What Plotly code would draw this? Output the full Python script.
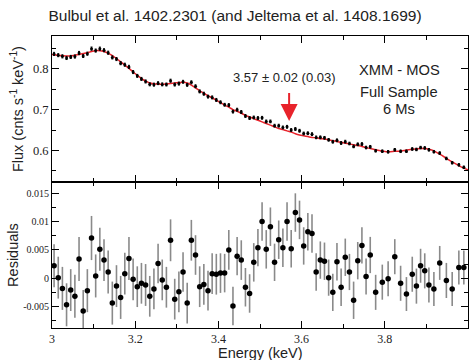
import plotly.graph_objects as go
from plotly.subplots import make_subplots

# Bin centres (keV)
energy = [
    3.005, 3.015, 3.025, 3.035, 3.045, 3.055, 3.065, 3.075, 3.085, 3.095,
    3.105, 3.115, 3.125, 3.135, 3.145, 3.155, 3.165, 3.175, 3.185, 3.195,
    3.205, 3.215, 3.225, 3.235, 3.245, 3.255, 3.265, 3.275, 3.285, 3.295,
    3.305, 3.315, 3.325, 3.335, 3.345, 3.355, 3.365, 3.375, 3.385, 3.395,
    3.405, 3.415, 3.425, 3.435, 3.445, 3.455, 3.465, 3.475, 3.485, 3.495,
    3.505, 3.515, 3.525, 3.535, 3.545, 3.555, 3.565, 3.575, 3.585, 3.595,
    3.605, 3.615, 3.625, 3.635, 3.645, 3.655, 3.665, 3.675, 3.685, 3.695,
    3.705, 3.715, 3.725, 3.735, 3.745, 3.755, 3.765, 3.778, 3.794, 3.808,
    3.824, 3.838, 3.852, 3.866, 3.876, 3.886, 3.896, 3.906, 3.918, 3.932,
    3.948, 3.962, 3.978, 3.990,
]

# Best-fit model flux at each bin (cnts/s/keV)
model = [
    0.834, 0.833, 0.832, 0.831, 0.831, 0.833, 0.835, 0.837, 0.839, 0.842,
    0.844, 0.844, 0.842, 0.838, 0.832, 0.825, 0.817, 0.809, 0.801, 0.792,
    0.784, 0.776, 0.770, 0.765, 0.763, 0.762, 0.762, 0.763, 0.764, 0.765,
    0.766, 0.767, 0.765, 0.760, 0.753, 0.746, 0.740, 0.734, 0.729, 0.723,
    0.717, 0.711, 0.706, 0.700, 0.696, 0.691, 0.686, 0.682, 0.678, 0.674,
    0.670, 0.666, 0.662, 0.658, 0.654, 0.651, 0.648, 0.645, 0.641, 0.638,
    0.636, 0.634, 0.632, 0.631, 0.629, 0.628, 0.626, 0.624, 0.622, 0.620,
    0.618, 0.616, 0.614, 0.612, 0.610, 0.607, 0.605, 0.602, 0.599, 0.597,
    0.598, 0.599, 0.601, 0.603, 0.604, 0.605, 0.605, 0.603, 0.599, 0.591,
    0.581, 0.572, 0.563, 0.557,
]

# Model flux at the band edges
edge_energy = [3.0, 4.0]
edge_model = [0.835, 0.553]

# Residuals (data - model)
residual = [
    0.0022, 0.0001, -0.0018, -0.0047, -0.0021, -0.0032, 0.0034, -0.0058, -0.0022, 0.0071,
    0.0004, 0.0051, 0.0032, 0.0011, -0.0044, -0.0014, -0.0034, 0.0008, 0.0035, -0.0002,
    -0.0015, -0.0009, -0.0012, -0.0032, -0.0019, 0.0026, -0.0003, -0.0016, 0.0067, -0.0037,
    -0.0024, 0.0011, -0.0044, 0.0067, 0.0041, -0.0015, -0.0011, -0.0022, 0.0008, 0.0007,
    0.0009, 0.0009, 0.0050, -0.0049, 0.0039, 0.0032, -0.0016, -0.0027, 0.0028, 0.0054,
    0.0100, 0.0051, 0.0091, 0.0028, 0.0068, 0.0054, 0.0100, 0.0052, 0.0116, 0.0103,
    0.0057, 0.0082, 0.0079, 0.0011, 0.0032, 0.0030, 0.0001, -0.0025, 0.0029, -0.0016,
    0.0037, 0.0011, -0.0039, 0.0031, 0.0058, 0.0003, 0.0041, -0.0025, -0.0007, -0.0001,
    0.0038, -0.0009, -0.0028, 0.0007, -0.0014, 0.0022, 0.0013, -0.0012, -0.0019, 0.0027,
    -0.0004, -0.0019, 0.0019, 0.0019,
]

# 1-sigma uncertainties
error = [
    0.0038, 0.0037, 0.0038, 0.0038, 0.0037, 0.0038, 0.0039, 0.0037, 0.0038, 0.0039,
    0.0038, 0.0038, 0.0037, 0.0038, 0.0038, 0.0037, 0.0038, 0.0037, 0.0038, 0.0037,
    0.0036, 0.0036, 0.0037, 0.0036, 0.0036, 0.0035, 0.0036, 0.0036, 0.0037, 0.0036,
    0.0036, 0.0035, 0.0036, 0.0036, 0.0035, 0.0036, 0.0036, 0.0035, 0.0036, 0.0036,
    0.0035, 0.0034, 0.0035, 0.0034, 0.0034, 0.0035, 0.0034, 0.0034, 0.0034, 0.0033,
    0.0034, 0.0034, 0.0034, 0.0033, 0.0034, 0.0034, 0.0034, 0.0033, 0.0034, 0.0034,
    0.0033, 0.0033, 0.0034, 0.0033, 0.0033, 0.0033, 0.0032, 0.0033, 0.0033, 0.0033,
    0.0033, 0.0032, 0.0033, 0.0033, 0.0032, 0.0032, 0.0032, 0.0031, 0.0031, 0.0031,
    0.0031, 0.0031, 0.0030, 0.0031, 0.0031, 0.0030, 0.0031, 0.0031, 0.0030, 0.0030,
    0.0031, 0.0030, 0.0030, 0.0030,
]

# Observed flux = model + residual
flux = [m + r for m, r in zip(model, residual)]

line_energy = 3.57
x_ticks = [3.0, 3.2, 3.4, 3.6, 3.8, 4.0]
x_labels = ["3", "3.2", "3.4", "3.6", "3.8", "4"]
flux_ticks = [0.6, 0.7, 0.8]
flux_labels = ["0.6", "0.7", "0.8"]
res_ticks = [-0.005, 0.0, 0.005, 0.01, 0.015]
res_labels = ["-0.005", "0", "0.005", "0.01", "0.015"]

SANS = "Liberation Sans, Arial, sans-serif"
SERIF = "Liberation Serif, Times New Roman, serif"
RED = "#e8232b"
TEXT = "#222"

fig = make_subplots(rows=2, cols=1, shared_xaxes=True, vertical_spacing=0)

# Model curve
fig.add_trace(go.Scatter(
    x=[edge_energy[0]] + energy + [edge_energy[1]],
    y=[edge_model[0]] + model + [edge_model[1]],
    mode="lines", line=dict(color=RED, width=1.5, shape="spline"),
    hoverinfo="skip", showlegend=False), row=1, col=1)

# Spectrum
fig.add_trace(go.Scatter(
    x=energy, y=flux, mode="markers",
    marker=dict(color="black", size=3),
    error_y=dict(type="data", array=error, color="black", thickness=1, width=1),
    showlegend=False), row=1, col=1)

# Zero line for residuals
fig.add_hline(y=0, line=dict(color="#f04848", width=1.5, dash="8px,5px"), row=2, col=1)

# Residuals
fig.add_trace(go.Scatter(
    x=energy, y=residual, mode="markers",
    marker=dict(color="black", size=5.5),
    error_y=dict(type="data", array=error, color="#8a8a8a", thickness=1.6, width=0),
    showlegend=False), row=2, col=1)

axis_common = dict(
    showgrid=False, zeroline=False, showline=True, linecolor="black", linewidth=1,
    mirror="ticks", ticks="inside", ticklen=7, tickcolor="black", tickwidth=1,
)

fig.update_xaxes(
    range=[3.0, 4.0], tickvals=x_ticks, ticktext=x_labels,
    minor=dict(dtick=0.1, ticks="inside", ticklen=4, tickcolor="black", showgrid=False),
    **axis_common)
fig.update_xaxes(showticklabels=False, row=1, col=1)
fig.update_xaxes(showticklabels=True, tickfont=dict(family=SERIF, size=12, color=TEXT),
                 row=2, col=1)

fig.update_yaxes(
    range=[0.523, 0.88], tickvals=flux_ticks, ticktext=flux_labels,
    tickfont=dict(family=SERIF, size=12.5, color=TEXT),
    minor=dict(dtick=0.05, tick0=0.55, ticks="inside", ticklen=4, tickcolor="black", showgrid=False),
    row=1, col=1, **axis_common)
fig.update_yaxes(
    range=[-0.0088, 0.017], tickvals=res_ticks, ticktext=res_labels,
    tickfont=dict(family=SERIF, size=10, color=TEXT),
    minor=dict(dtick=0.0025, tick0=0, ticks="inside", ticklen=4, tickcolor="black", showgrid=False),
    row=2, col=1, **axis_common)

annotations = [
    # Line-energy marker
    dict(x=line_energy, y=0.672, xref="x", yref="y", ax=line_energy, ay=0.744,
         axref="x", ayref="y", showarrow=True, arrowhead=2, arrowsize=1.7,
         arrowwidth=2, arrowcolor=RED, text=""),
    dict(x=3.56, y=0.7795, xref="x", yref="y", showarrow=False,
         xanchor="center", yanchor="middle",
         text="3.57 ± 0.02 (0.03)", font=dict(family=SANS, size=13, color=TEXT)),
    dict(x=3.835, y=0.7976, xref="x", yref="y", showarrow=False,
         xanchor="center", yanchor="middle",
         text="XMM - MOS", font=dict(family=SANS, size=14.7, color=TEXT)),
    dict(x=3.835, y=0.743, xref="x", yref="y", showarrow=False,
         xanchor="center", yanchor="middle",
         text="Full Sample", font=dict(family=SANS, size=14.7, color=TEXT)),
    dict(x=3.835, y=0.7007, xref="x", yref="y", showarrow=False,
         xanchor="center", yanchor="middle",
         text="6 Ms", font=dict(family=SANS, size=14.7, color=TEXT)),
    # Axis titles
    dict(x=-0.084, y=0.75, xref="paper", yref="paper", showarrow=False, textangle=-90,
         xanchor="center", yanchor="middle",
         text="Flux (cnts s<sup>-1</sup> keV<sup>-1</sup>)",
         font=dict(family=SANS, size=14.5, color=TEXT)),
    dict(x=-0.094, y=0.25, xref="paper", yref="paper", showarrow=False, textangle=-90,
         xanchor="center", yanchor="middle",
         text="Residuals", font=dict(family=SANS, size=14.5, color=TEXT)),
    dict(x=0.5, y=-0.0856, xref="paper", yref="paper", showarrow=False,
         xanchor="center", yanchor="middle",
         text="Energy (keV)", font=dict(family=SANS, size=14.5, color=TEXT)),
]

fig.update_layout(
    width=470, height=360,
    margin=dict(l=52, r=2, t=36, b=32),
    paper_bgcolor="white", plot_bgcolor="white",
    title=dict(text="Bulbul et al. 1402.2301 (and Jeltema et al. 1408.1699)",
               x=0.5, xref="container", xanchor="center",
               y=1 - 16 / 360, yref="container", yanchor="middle",
               font=dict(family=SANS, size=15.5, color=TEXT)),
    annotations=annotations,
    showlegend=False,
)

fig.write_html("out.html")
